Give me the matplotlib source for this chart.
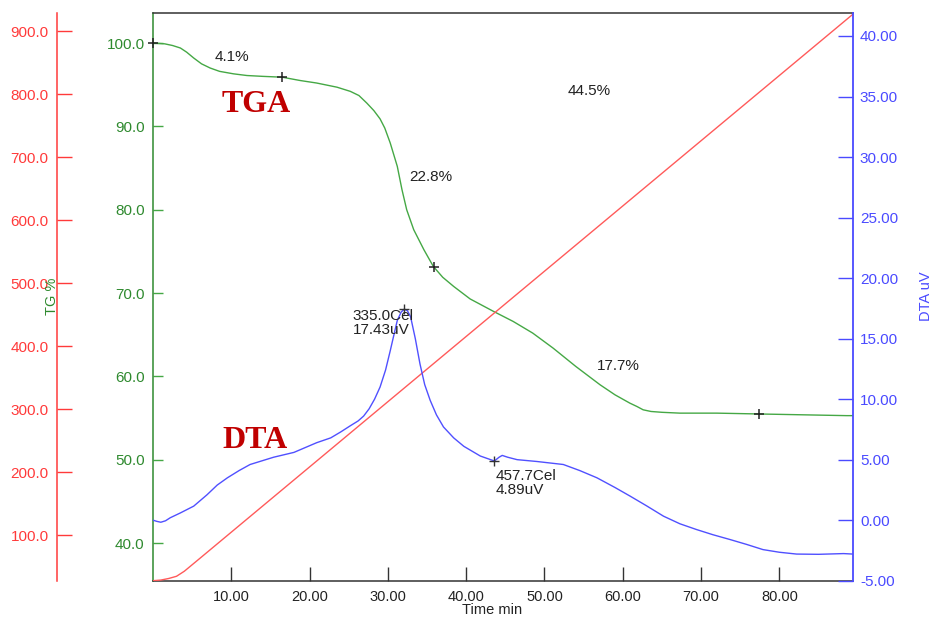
import matplotlib
matplotlib.use("Agg")
import matplotlib.pyplot as plt
from matplotlib.ticker import FixedLocator, FormatStrFormatter

plt.rcParams['font.family'] = ['Liberation Sans', 'DejaVu Sans']

# ---- data ----
# TG curve: time (min) vs mass (%)
tg_time = [0.0, 1.5, 2.5, 3.5, 4.3, 5.2, 6.2, 7.3, 8.5, 10.3, 12.0, 14.0, 16.5, 18.8,
           20.9, 23.5, 25.2, 26.3, 27.3, 28.2, 29.0, 29.6, 30.3, 31.2, 31.8, 32.4,
           33.3, 34.6, 35.8, 37.0, 38.4, 40.5, 43.5, 46.0, 48.5, 51.1, 54.0, 57.1,
           59.0, 60.9, 61.8, 62.6, 63.6, 65.0, 67.3, 72.0, 77.4, 83.0, 88.6, 89.4]
tg_mass = [100.0, 99.9, 99.7, 99.4, 98.9, 98.2, 97.5, 97.0, 96.6, 96.3, 96.1, 96.0, 95.9, 95.5,
           95.2, 94.7, 94.2, 93.7, 92.8, 91.9, 90.9, 89.8, 88.0, 85.2, 82.4, 80.0,
           77.6, 75.2, 73.2, 71.9, 70.8, 69.3, 67.8, 66.6, 65.2, 63.4, 61.2, 59.0,
           57.8, 56.8, 56.4, 56.0, 55.8, 55.7, 55.6, 55.6, 55.5, 55.4, 55.3, 55.3]

# DTA curve: time (min) vs signal (uV)
dta_time = [0.0, 0.5, 1.0, 1.6, 2.2, 3.5, 5.2, 6.9, 8.2, 9.5, 11.0, 12.4, 15.4, 18.0,
            20.9, 22.7, 24.0, 25.2, 26.2, 26.9, 27.6, 28.3, 29.0, 29.7, 30.3, 30.8,
            31.2, 31.7, 32.1, 32.5, 32.9, 33.5, 34.1, 34.7, 35.4, 36.2, 37.1, 38.4,
            39.7, 41.8, 43.6, 44.2, 44.6, 45.3, 46.5, 49.0, 52.4, 54.5, 56.7, 59.0,
            60.9, 63.0, 65.2, 67.3, 69.4, 71.5, 73.7, 75.8, 77.9, 80.0, 82.2, 85.0,
            88.2, 89.4]
dta_uv = [0.0, -0.1, -0.17, -0.05, 0.2, 0.6, 1.16, 2.1, 2.9, 3.5, 4.1, 4.6, 5.2, 5.6,
          6.4, 6.8, 7.3, 7.8, 8.2, 8.6, 9.2, 10.0, 11.0, 12.4, 14.0, 15.4,
          16.5, 17.2, 17.43, 17.3, 16.8, 15.0, 12.9, 11.2, 9.9, 8.7, 7.7, 6.8,
          6.1, 5.3, 4.89, 5.2, 5.35, 5.2, 5.0, 4.85, 4.6, 4.1, 3.5, 2.7,
          2.0, 1.2, 0.33, -0.3, -0.77, -1.2, -1.6, -2.0, -2.43, -2.65, -2.8, -2.82,
          -2.76, -2.8]

# Sample temperature: time (min) vs temperature (Cel)
temp_time = [0.0, 1.0, 2.0, 3.0, 4.0, 6.0, 20.0, 40.0, 60.0, 80.0, 89.4]
temp_cel = [28.0, 29.0, 31.5, 35.0, 43.0, 63.6, 208.5, 415.5, 622.5, 829.5, 926.8]

# TG step markers and step labels
tg_mark_time = [0.0, 16.5, 35.9, 77.4]
tg_mark_mass = [100.0, 95.9, 73.1, 55.5]
step_labels = ["4.1%", "22.8%", "17.7%", "44.5%"]
step_label_time = [10.1, 35.5, 59.4, 55.7]
step_label_mass = [98.35, 83.95, 61.2, 94.3]

# DTA peak annotations
peak_time = [32.1, 43.6]
peak_uv = [17.43, 4.89]
peak_cel = [335.0, 457.7]

x_ticks = [10, 20, 30, 40, 50, 60, 70, 80]
tg_ticks = [40, 50, 60, 70, 80, 90, 100]
temp_ticks = [100, 200, 300, 400, 500, 600, 700, 800, 900]
dta_ticks = [-5, 0, 5, 10, 15, 20, 25, 30, 35, 40]

# ---- colours ----
c_green = '#2f8a2f'
c_green_line = '#45a845'
c_red = '#ff3a3a'
c_red_line = '#ff5a5a'
c_blue = '#4a4aff'
c_blue_line = '#5050ff'
c_title = '#c00000'

W, H = 932, 618
fig = plt.figure(figsize=(W / 100, H / 100), dpi=100)
left, right, top, bottom = 153, 853, 13, 580.7
ax = fig.add_axes([left / W, 1 - bottom / H, (right - left) / W, (bottom - top) / H])

ax_temp = ax.twinx()
ax_dta = ax.twinx()

fs_tick = 11

# TG axis (left, green)
ax.plot(tg_time, tg_mass, color=c_green_line, lw=1.0, zorder=3)
ax.plot(tg_mark_time, tg_mark_mass, ls='none', marker='+', ms=7, mew=1.1,
        color='#222222', zorder=4, clip_on=False)
ax.set_xlim(0, 89.4)
ax.set_ylim(35.5, 103.6)
ax.yaxis.set_major_locator(FixedLocator(tg_ticks))
ax.yaxis.set_major_formatter(FormatStrFormatter('%.1f'))
ax.tick_params(axis='y', direction='in', length=7, width=1, color=c_green_line,
               labelcolor=c_green, labelsize=fs_tick, pad=6)
ax.xaxis.set_major_locator(FixedLocator(x_ticks))
ax.xaxis.set_major_formatter(FormatStrFormatter('%.2f'))
ax.tick_params(axis='x', direction='in', length=10, width=1, color='#333333',
               labelcolor='#222222', labelsize=10.5, pad=7)
ax.spines['left'].set_color(c_green)
ax.spines['bottom'].set_color('#333333')
ax.spines['top'].set_color('#333333')
ax.spines['right'].set_visible(False)
for s in ax.spines.values():
    s.set_linewidth(1.1)

# Temperature axis (far left, red)
ax_temp.plot(temp_time, temp_cel, color=c_red_line, lw=1.0, zorder=2)
ax_temp.set_ylim(28, 928.6)
ax_temp.yaxis.set_ticks_position('left')
ax_temp.yaxis.set_label_position('left')
ax_temp.spines['left'].set_position(('axes', (57 - left) / (right - left)))
ax_temp.spines['left'].set_visible(True)
ax_temp.spines['left'].set_color(c_red)
ax_temp.spines['left'].set_linewidth(1.1)
for k in ('right', 'top', 'bottom'):
    ax_temp.spines[k].set_visible(False)
ax_temp.yaxis.set_major_locator(FixedLocator(temp_ticks))
ax_temp.yaxis.set_major_formatter(FormatStrFormatter('%.1f'))
ax_temp.tick_params(axis='y', direction='in', length=11, width=1, color=c_red,
                    labelcolor=c_red, labelsize=fs_tick, pad=6)

# DTA axis (right, blue)
ax_dta.plot(dta_time, dta_uv, color=c_blue_line, lw=1.0, zorder=3)
ax_dta.plot(peak_time, peak_uv, ls='none', marker='+', ms=7, mew=1.0,
            color='#333333', zorder=4)
ax_dta.set_ylim(-5, 41.9)
ax_dta.spines['right'].set_color(c_blue)
ax_dta.spines['right'].set_linewidth(1.3)
for k in ('left', 'top', 'bottom'):
    ax_dta.spines[k].set_visible(False)
ax_dta.yaxis.set_major_locator(FixedLocator(dta_ticks))
ax_dta.yaxis.set_major_formatter(FormatStrFormatter('%.2f'))
ax_dta.tick_params(axis='y', direction='in', length=11, width=1, color=c_blue,
                   labelcolor=c_blue, labelsize=fs_tick, pad=5)

# step labels on the TG curve
for lab, tx, ty in zip(step_labels, step_label_time, step_label_mass):
    ax.text(tx, ty, lab, fontsize=11, color='#222222', ha='center', va='center',
            zorder=5)

# peak labels on the DTA curve
peak_label_pos = [(25.5, 17.45), (43.8, 4.2)]
for (tx, ty), cel, uv in zip(peak_label_pos, peak_cel, peak_uv):
    ax_dta.text(tx, ty, f"{cel:.1f}Cel\n{uv:.2f}uV", fontsize=11,
                color='#222222', ha='left', va='top', linespacing=1.0,
                zorder=5)

# curve names
ax.text((256.3 - left) / (right - left), 1 - (104.2 - top) / (bottom - top), "TGA",
        transform=ax.transAxes, fontsize=23, fontweight='bold', color=c_title,
        family=['Liberation Serif', 'DejaVu Serif'], ha='center', va='center',
        zorder=6)
ax.text((254.7 - left) / (right - left), 1 - (441 - top) / (bottom - top), "DTA",
        transform=ax.transAxes, fontsize=23, fontweight='bold', color=c_title,
        family=['Liberation Serif', 'DejaVu Serif'], ha='center', va='center',
        zorder=6)

# axis titles
fig.text(52 / W, 1 - 296 / H, "TG %", rotation=90, color=c_green, fontsize=10.5,
         ha='center', va='center')
fig.text(926 / W, 1 - 296 / H, "DTA uV", rotation=90, color=c_blue, fontsize=10.5,
         ha='center', va='center')
fig.text(492 / W, 1 - 610 / H, "Time min", color='#222222', fontsize=10.5,
         ha='center', va='center')

fig.savefig("out.png", dpi=100)
